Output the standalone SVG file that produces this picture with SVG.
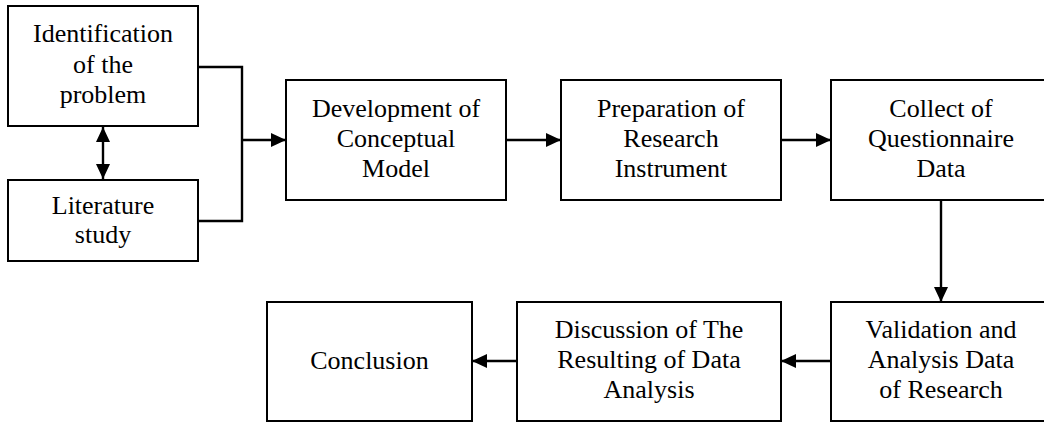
<svg xmlns="http://www.w3.org/2000/svg" width="1044" height="423" viewBox="0 0 1044 423">
  <style>
    .box { fill: #ffffff; stroke: #000000; stroke-width: 2; }
    .lbl { font-family: 'Liberation Serif', 'DejaVu Serif', serif; font-size: 26px; fill: #000000; text-anchor: middle; }
    .wire { fill: none; stroke: #000000; stroke-width: 2.4; }
  </style>
  <defs>
    <marker id="arrow" markerUnits="userSpaceOnUse" markerWidth="16" markerHeight="14" refX="15" refY="7" orient="auto">
      <path d="M0,0 L15,7 L0,14 Z" fill="#000000"/>
    </marker>
    <marker id="arrowStart" markerUnits="userSpaceOnUse" markerWidth="16" markerHeight="14" refX="0" refY="7" orient="auto">
      <path d="M15,0 L0,7 L15,14 Z" fill="#000000"/>
    </marker>
  </defs>
  <rect width="1044" height="423" fill="#ffffff"/>

  <g id="connectors">
    <line class="wire" x1="103" y1="127" x2="103" y2="179" marker-start="url(#arrowStart)" marker-end="url(#arrow)"/>
    <polyline class="wire" points="198,67 242,67 242,221 198,221"/>
    <line class="wire" x1="242" y1="140" x2="286" y2="140" marker-end="url(#arrow)"/>
    <line class="wire" x1="506" y1="140" x2="561" y2="140" marker-end="url(#arrow)"/>
    <line class="wire" x1="781" y1="140" x2="831" y2="140" marker-end="url(#arrow)"/>
    <line class="wire" x1="941" y1="200" x2="941" y2="302" marker-end="url(#arrow)"/>
    <line class="wire" x1="831" y1="361" x2="781" y2="361" marker-end="url(#arrow)"/>
    <line class="wire" x1="517" y1="361" x2="472" y2="361" marker-end="url(#arrow)"/>
  </g>

  <g font-family="Liberation Serif, DejaVu Serif, serif">
  <g id="identification">
    <rect class="box" x="8" y="6" width="190" height="120"/>
    <text class="lbl" x="103" y="42">Identification</text>
    <text class="lbl" x="103" y="73">of the</text>
    <text class="lbl" x="103" y="103">problem</text>
  </g>

  <g id="literature">
    <rect class="box" x="8" y="180" width="190" height="81"/>
    <text class="lbl" x="103" y="214">Literature</text>
    <text class="lbl" x="103" y="243">study</text>
  </g>

  <g id="development">
    <rect class="box" x="286" y="80" width="220" height="120"/>
    <text class="lbl" x="396" y="117">Development of</text>
    <text class="lbl" x="396" y="147">Conceptual</text>
    <text class="lbl" x="396" y="177">Model</text>
  </g>

  <g id="preparation">
    <rect class="box" x="561" y="80" width="220" height="120"/>
    <text class="lbl" x="671" y="117">Preparation of</text>
    <text class="lbl" x="671" y="147">Research</text>
    <text class="lbl" x="671" y="177">Instrument</text>
  </g>

  <g id="collect">
    <rect class="box" x="831" y="80" width="220" height="120"/>
    <text class="lbl" x="941" y="117">Collect of</text>
    <text class="lbl" x="941" y="147">Questionnaire</text>
    <text class="lbl" x="941" y="177">Data</text>
  </g>

  <g id="validation">
    <rect class="box" x="831" y="302" width="220" height="119"/>
    <text class="lbl" x="941" y="338">Validation and</text>
    <text class="lbl" x="941" y="368">Analysis Data</text>
    <text class="lbl" x="941" y="398">of Research</text>
  </g>

  <g id="discussion">
    <rect class="box" x="517" y="302" width="264" height="119"/>
    <text class="lbl" x="649" y="338">Discussion of The</text>
    <text class="lbl" x="649" y="368">Resulting of Data</text>
    <text class="lbl" x="649" y="398">Analysis</text>
  </g>

  <g id="conclusion">
    <rect class="box" x="267" y="302" width="205" height="119"/>
    <text class="lbl" x="369.5" y="369">Conclusion</text>
  </g>
  </g>
</svg>
